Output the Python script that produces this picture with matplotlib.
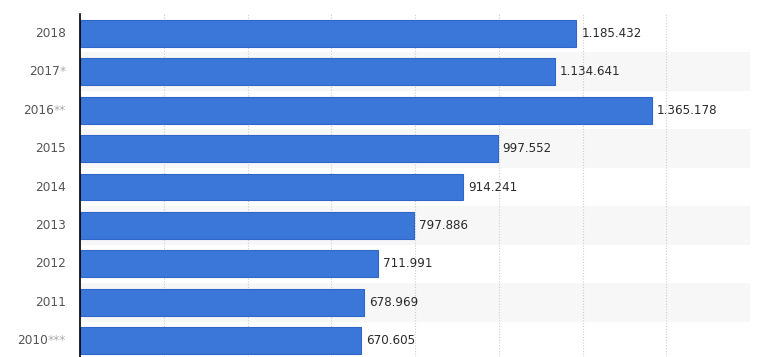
import matplotlib
matplotlib.use("Agg")
import matplotlib.pyplot as plt

# dados
anos = ["2018", "2017", "2016", "2015", "2014", "2013", "2012", "2011", "2010"]
notas = ["", "*", "**", "", "", "", "", "", "***"]
valores = [1185432, 1134641, 1365178, 997552, 914241, 797886, 711991, 678969, 670605]

W, H = 767, 357
fig = plt.figure(figsize=(W / 100, H / 100), dpi=100)
ax = fig.add_axes([80 / W, 0, 670 / W, 1 - 14 / H])

y = list(range(len(anos)))

# faixas alternadas
for i in y:
    if i % 2 == 1:
        ax.axhspan(i - 0.5, i + 0.5, color="#f7f7f7", zorder=0, lw=0)

ax.barh(y, valores, height=0.7, color="#3b77d9", edgecolor="#2f66c8", linewidth=0.8, zorder=3)

for i, v in zip(y, valores):
    ax.text(v + 12000, i, f"{v:,}".replace(",", "."), va="center", ha="left",
            fontsize=8.6, color="#2a2a2a", zorder=4)

ax.set_xlim(0, 1600000)
ax.set_ylim(8.42, -0.5)
ax.set_xticks([200000 * k for k in range(1, 9)])
ax.grid(axis="x", linestyle=(0, (1, 1.5)), color="#cfcfcf", linewidth=0.8, zorder=1)
ax.tick_params(axis="x", length=0, labelbottom=False)
ax.tick_params(axis="y", length=0)
ax.set_yticks(y)
ax.set_yticklabels([""] * len(y))

for s in ["top", "right", "bottom"]:
    ax.spines[s].set_visible(False)
ax.spines["left"].set_color("black")
ax.spines["left"].set_linewidth(1.2)
ax.spines["left"].set_zorder(5)

# rótulos do eixo y (ano + asteriscos em cinza claro)
fig.canvas.draw()
renderer = fig.canvas.get_renderer()
x_dir = 66 / W
for i, (ano, nota) in zip(y, zip(anos, notas)):
    yf = ax.transData.transform((0, i))[1] / H
    x_ano = x_dir
    if nota:
        t = fig.text(x_dir, yf, nota, ha="right", va="center", fontsize=8.7, color="#aaaaaa")
        bb = t.get_window_extent(renderer)
        x_ano = bb.x0 / W
    fig.text(x_ano, yf, ano, ha="right", va="center", fontsize=8.7, color="#555555")

fig.savefig("out.png", dpi=100)
